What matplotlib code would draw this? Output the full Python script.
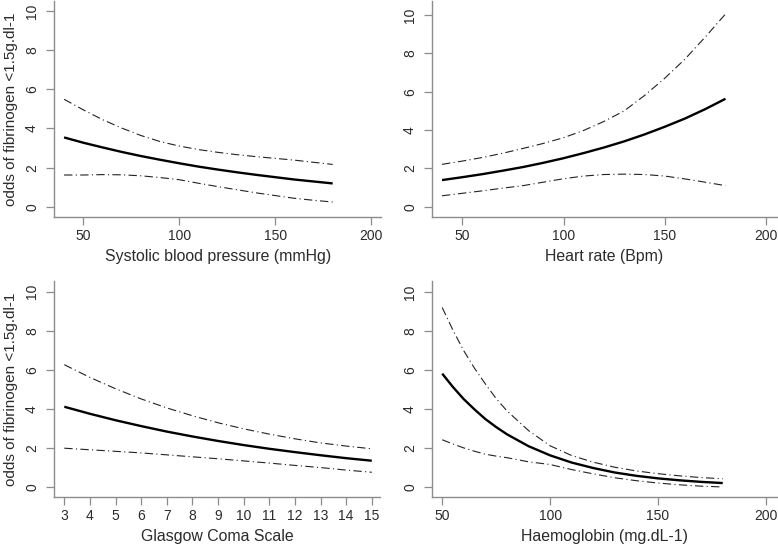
import numpy as np
import matplotlib
matplotlib.use("Agg")
import matplotlib.pyplot as plt

# ---------------- data ----------------
sbp_x = [40, 50, 60, 70, 80, 90, 100, 110, 120, 130, 140, 150, 160, 170, 180]
sbp_mid = [3.54, 3.27, 3.03, 2.80, 2.59, 2.40, 2.22, 2.05, 1.90, 1.76, 1.63, 1.51, 1.39, 1.29, 1.19]
sbp_up = [5.49, 4.95, 4.45, 4.02, 3.64, 3.33, 3.10, 2.92, 2.78, 2.66, 2.56, 2.47, 2.38, 2.27, 2.16]
sbp_lo = [1.62, 1.62, 1.64, 1.63, 1.58, 1.49, 1.38, 1.20, 1.03, 0.87, 0.71, 0.57, 0.43, 0.33, 0.24]

hr_x = [40, 50, 60, 70, 80, 90, 100, 110, 120, 130, 140, 150, 160, 170, 180]
hr_mid = [1.39, 1.54, 1.70, 1.88, 2.07, 2.29, 2.53, 2.80, 3.09, 3.41, 3.77, 4.17, 4.60, 5.09, 5.63]
hr_up = [2.21, 2.38, 2.57, 2.79, 3.04, 3.30, 3.60, 3.98, 4.45, 5.00, 5.80, 6.70, 7.70, 8.85, 10.05]
hr_lo = [0.57, 0.70, 0.83, 0.97, 1.10, 1.28, 1.46, 1.60, 1.68, 1.70, 1.68, 1.60, 1.45, 1.28, 1.10]

gcs_x = [3, 4, 5, 6, 7, 8, 9, 10, 11, 12, 13, 14, 15]
gcs_mid = [4.12, 3.76, 3.43, 3.13, 2.85, 2.60, 2.37, 2.16, 1.97, 1.80, 1.64, 1.49, 1.36]
gcs_up = [6.27, 5.62, 5.04, 4.52, 4.06, 3.66, 3.30, 2.99, 2.72, 2.48, 2.27, 2.11, 1.97]
gcs_lo = [2.00, 1.92, 1.84, 1.76, 1.66, 1.56, 1.46, 1.35, 1.24, 1.12, 1.01, 0.88, 0.77]

hb_x = [50, 55, 60, 65, 70, 75, 80, 90, 100, 110, 120, 130, 140, 150, 160, 170, 180]
hb_mid = [5.83, 5.14, 4.52, 3.99, 3.50, 3.09, 2.72, 2.11, 1.64, 1.27, 0.99, 0.76, 0.59, 0.46, 0.36, 0.28, 0.22]
hb_up = [9.22, 8.05, 7.00, 6.10, 5.30, 4.55, 3.92, 2.91, 2.13, 1.63, 1.29, 1.03, 0.84, 0.70, 0.59, 0.50, 0.44]
hb_lo = [2.44, 2.22, 2.02, 1.85, 1.70, 1.60, 1.52, 1.31, 1.17, 0.91, 0.69, 0.49, 0.34, 0.22, 0.13, 0.06, 0.02]

y_ticks = [0, 2, 4, 6, 8, 10]
x_ticks_main = [50, 100, 150, 200]
x_ticks_gcs = list(range(3, 16))

xlabels = ["Systolic blood pressure (mmHg)", "Heart rate (Bpm)",
           "Glasgow Coma Scale", "Haemoglobin (mg.dL-1)"]
ylabel = "odds of fibrinogen <1.5g.dl-1"

# ---------------- figure ----------------
plt.rcParams['font.family'] = ['Liberation Sans', 'DejaVu Sans']
W, H = 778, 549
fig = plt.figure(figsize=(W / 100, H / 100), dpi=100)

TEXT = "#2b2b2b"
AXC = "#8c8c8c"

panels = [
    # px rect (x0, x1, ytop, ybot), xlim, ylim
    ((54.3, 381.0, 1.0, 216.7), (34.9, 205.2), (-0.51, 10.51)),
    ((432.3, 776.7, 1.0, 216.7), (35.2, 205.3), (-0.52, 10.73)),
    ((54.3, 380.0, 281.0, 496.7), (2.61, 15.32), (-0.48, 10.55)),
    ((432.3, 776.7, 281.0, 496.7), (45.4, 205.0), (-0.48, 10.58)),
]
series = [
    (sbp_x, sbp_mid, sbp_up, sbp_lo),
    (hr_x, hr_mid, hr_up, hr_lo),
    (gcs_x, gcs_mid, gcs_up, gcs_lo),
    (hb_x, hb_mid, hb_up, hb_lo),
]

for i, ((x0, x1, yt, yb), xl, yl) in enumerate(panels):
    ax = fig.add_axes([x0 / W, 1 - yb / H, (x1 - x0) / W, (yb - yt) / H])
    xs, mid, up, lo = series[i]
    ax.plot(xs, mid, color="black", lw=1.7, solid_capstyle="butt")
    for s in (up, lo):
        ax.plot(xs, s, color="#222222", lw=0.8, dashes=(7.5, 3.0, 1.0, 3.0))
    ax.set_xlim(*xl)
    ax.set_ylim(*yl)
    ax.set_yticks(y_ticks)
    ax.set_xticks(x_ticks_gcs if i == 2 else x_ticks_main)
    for sp in ("top", "right"):
        ax.spines[sp].set_visible(False)
    for sp in ("left", "bottom"):
        ax.spines[sp].set_color(AXC)
        ax.spines[sp].set_linewidth(1.0)
    ax.tick_params(axis="both", colors=AXC, labelcolor=TEXT, length=5.5,
                   width=0.9, labelsize=10)
    ax.tick_params(axis="x", pad=3.0)
    ax.tick_params(axis="y", pad=5.5)
    for lab in ax.get_yticklabels():
        lab.set_rotation(90)
        lab.set_va("center")
        lab.set_ha("right")
    h_px = yb - yt
    w_px = x1 - x0
    ax.set_xlabel(xlabels[i], fontsize=11.4, color=TEXT)
    ax.xaxis.set_label_coords(0.5, -40.0 / h_px)
    ax.xaxis.label.set_va("center")
    if i in (0, 2):
        ax.set_ylabel(ylabel, fontsize=11, color=TEXT)
        ax.yaxis.set_label_coords(-43.0 / w_px, 0.5)
        ax.yaxis.label.set_va("center")

fig.savefig("out.png", dpi=100)
